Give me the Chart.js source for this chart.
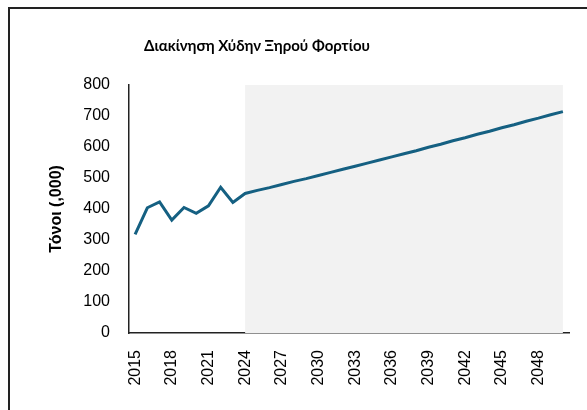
<!DOCTYPE html>
<html>
<head>
<meta charset="utf-8">
<script src="https://cdn.jsdelivr.net/npm/chart.js@4.4.1/dist/chart.umd.min.js"></script>
<style>
  html, body { margin: 0; padding: 0; background: #fff; overflow: hidden; }
  #wrap { position: relative; width: 587px; height: 410px; }
  #frame { position: absolute; left: 8px; top: 7px; width: 600px; height: 420px;
           border: 2px solid #222; pointer-events: none; }
</style>
</head>
<body>
<div id="wrap">
  <canvas id="chart" width="587" height="410"></canvas>
  <div id="frame"></div>
</div>
<script>
// years on the category axis
const years = [2015, 2016, 2017, 2018, 2019, 2020, 2021, 2022, 2023, 2024,
  2025, 2026, 2027, 2028, 2029, 2030, 2031, 2032, 2033, 2034,
  2035, 2036, 2037, 2038, 2039, 2040, 2041, 2042, 2043, 2044,
  2045, 2046, 2047, 2048, 2049, 2050];

// tonnes (,000) - actual up to 2023, forecast from 2024
const tonnes = [318, 404, 423, 364, 405, 386, 410, 470, 421, 450,
  460, 469, 479, 489, 498, 508, 518, 528, 538, 548,
  558, 568, 578, 588, 599, 609, 620, 630, 641, 651,
  662, 672, 683, 693, 704, 714];

// grey band over the forecast years
const forecastBand = [null, null, null, null, null, null, null, null, null, 800,
  800, 800, 800, 800, 800, 800, 800, 800, 800, 800,
  800, 800, 800, 800, 800, 800, 800, 800, 800, 800,
  800, 800, 800, 800, 800, 800];

const chartTitle = 'Διακίνηση Χύδην Ξηρού Φορτίου';
const tickFont = { family: 'Liberation Sans', size: 16 };

// title sits left of canvas centre, as in the original workbook chart
const titlePlugin = {
  id: 'sheetTitle',
  afterDraw(chart) {
    const ctx = chart.ctx;
    ctx.save();
    ctx.font = 'bold 15px Lato';
    ctx.fillStyle = '#000';
    ctx.textAlign = 'center';
    ctx.textBaseline = 'middle';
    ctx.fillText(chartTitle, 257, 46);
    ctx.restore();
  }
};

new Chart(document.getElementById('chart'), {
  type: 'line',
  data: {
    labels: years.map(String),
    datasets: [
      {
        label: 'Τόνοι',
        data: tonnes,
        borderColor: '#156082',
        borderWidth: 3,
        pointRadius: 0,
        tension: 0,
        fill: false
      },
      {
        label: 'Πρόβλεψη',
        data: forecastBand,
        borderWidth: 0,
        borderColor: 'rgba(0,0,0,0)',
        backgroundColor: '#f2f2f2',
        pointRadius: 0,
        fill: 'origin',
        spanGaps: false
      }
    ]
  },
  options: {
    responsive: false,
    animation: false,
    layout: { padding: { left: 0, right: 18, top: 85, bottom: 0 } },
    plugins: {
      legend: { display: false },
      tooltip: { enabled: false },
      title: { display: false }
    },
    scales: {
      x: {
        offset: true,
        grid: { display: false, drawTicks: false },
        border: { display: true, color: '#222', width: 1.5 },
        ticks: {
          autoSkip: false,
          minRotation: 90,
          maxRotation: 90,
          padding: 17,
          color: '#000',
          font: tickFont,
          callback: function (v, i) { return i % 3 === 0 ? this.getLabelForValue(v) : ''; }
        },
        afterFit: function (s) { s.height = 77; s.paddingLeft = 0; s.paddingRight = 0; }
      },
      y: {
        min: 0,
        max: 800,
        grid: { display: false, drawTicks: false },
        border: { display: true, color: '#222', width: 1.5 },
        ticks: { stepSize: 100, padding: 19, color: '#000', font: tickFont },
        title: {
          display: true,
          text: 'Τόνοι (,000)',
          color: '#000',
          font: { family: 'Liberation Sans', size: 16, weight: 'bold' },
          padding: { top: 47, bottom: 0 }
        },
        afterFit: function (s) { s.width = 129; }
      }
    }
  },
  plugins: [titlePlugin]
});
</script>
</body>
</html>
